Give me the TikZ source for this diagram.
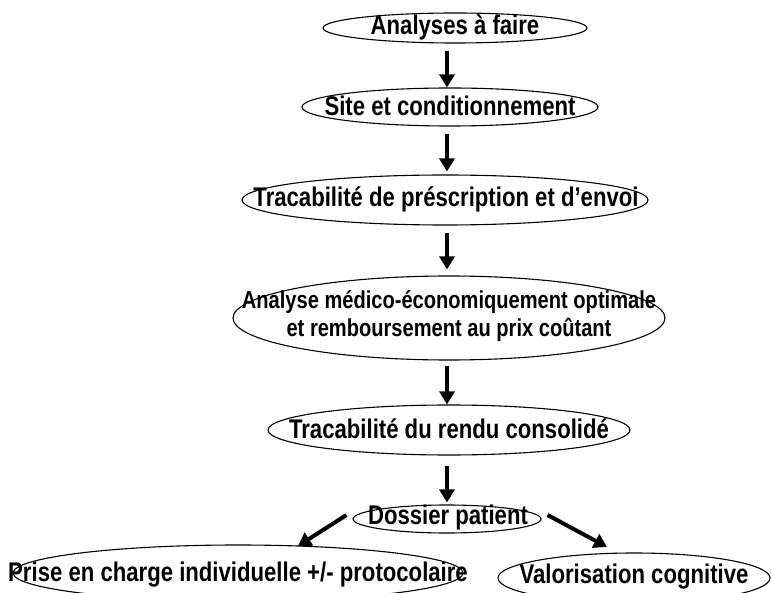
\documentclass[tikz,border=0pt]{standalone}
\usepackage{fontspec}
\setmainfont{Liberation Sans}[FakeStretch=0.82]
\usetikzlibrary{arrows.meta,shapes.geometric}
\begin{document}
\begin{tikzpicture}[x=1pt,y=-1pt,
  ell/.style={draw,ellipse,line width=1.1pt,inner sep=0pt},
  lbl/.style={font=\bfseries\fontsize{27}{28}\selectfont,inner sep=0pt,align=center},
  lblsmall/.style={font=\bfseries\fontsize{24.5}{28}\selectfont,inner sep=0pt,align=center},
  arr/.style={line width=4pt,-{Triangle[width=15pt,length=13pt]}}]
\useasboundingbox (0,0) rectangle (771,593);
\coordinate (ax) at (447,0);
% ellipses
\node[ell,minimum width=264pt,minimum height=30pt] (E1) at (455,28) {};
\node[ell,minimum width=296pt,minimum height=38pt] (E2) at (450,107) {};
\node[ell,minimum width=406pt,minimum height=50pt] (E3) at (445,200) {};
\node[ell,minimum width=432pt,minimum height=84pt] (E4) at (449,318) {};
\node[ell,minimum width=362pt,minimum height=50pt] (E5) at (449,430) {};
\node[ell,minimum width=188pt,minimum height=28pt] (D) at (447,519) {};
\node[ell,minimum width=450pt,minimum height=56pt] (P) at (238,573) {};
\node[ell,minimum width=272pt,minimum height=50pt] (V) at (634,578) {};
% labels
\node[lbl] (T1) at (455,27) {Analyses à faire};
\node[lbl] (T2) at (450,106) {Site et conditionnement};
\node[lbl] (T3) at (446,199) {Tracabilité de préscription et d’envoi};
\node[lblsmall] (T4) at (449,316) {Analyse médico-économiquement optimale\\et remboursement au prix coûtant};
\node[lbl] (T5) at (449,429) {Tracabilité du rendu consolidé};
\node[lbl] (TD) at (448,518) {Dossier patient};
\node[lbl] (TP) at (238,575) {Prise en charge individuelle +/- protocolaire};
\node[lbl] (TV) at (634,577) {Valorisation cognitive};
% connectors
\coordinate (lt) at (298,546);
\coordinate (rt) at (607,547);
\draw[arr,shorten <=7pt] (E1.south -| ax) -- (E2.north -| ax);
\draw[arr,shorten <=7pt,shorten >=3pt] (E2.south -| ax) -- (E3.north -| ax);
\draw[arr,shorten <=7pt,shorten >=6pt] (E3.south -| ax) -- (E4.north -| ax);
\draw[arr,shorten <=5pt] (E4.south -| ax) -- (E5.north -| ax);
\draw[arr,shorten <=10pt,shorten >=2pt] (E5.south -| ax) -- (D.north -| ax);
\draw[arr] ([xshift=-6pt,yshift=4pt]D.west) -- (lt);
\draw[arr] ([xshift=6pt,yshift=4pt]D.east) -- (rt);
\end{tikzpicture}
\end{document}
